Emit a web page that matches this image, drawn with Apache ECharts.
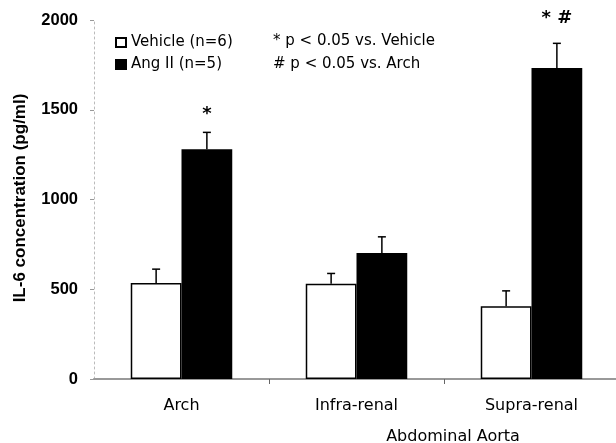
<!DOCTYPE html>
<html>
<head>
<meta charset="utf-8">
<script src="https://cdn.jsdelivr.net/npm/echarts@6/dist/echarts.min.js"></script>
<style>html,body{margin:0;padding:0;background:#fff}#c{width:616px;height:443px}</style>
</head>
<body>
<div id="c"></div>
<script>
var categories = ['Arch', 'Infra-renal', 'Supra-renal'];
var seriesNames = ['Vehicle (n=6)', 'Ang II (n=5)'];
var vehicle = [535, 530, 405];
var vehicleSEM = [77, 58, 86];
var angII = [1280, 702, 1732];
var angIISEM = [94, 90, 138];
var annotations = ['*', '', '* #'];
var yTicks = [0, 500, 1000, 1500, 2000];
var yAxisTitle = 'IL-6 concentration (pg/ml)';
var xGroupTitle = 'Abdominal Aorta';
var statNotes = ['* p < 0.05 vs. Vehicle', '# p < 0.05 vs. Arch'];

var chart = echarts.init(document.getElementById('c'), null, {renderer: 'canvas'});
var GAP = 0.42;

function errSeries(name, means, sems, side, withNotes) {
  var data = means.map(function (m, i) { return [i, m, m + sems[i], withNotes ? annotations[i] : '']; });
  return {
    type: 'custom',
    name: name + ' err',
    z: 5,
    silent: true,
    data: data,
    encode: {x: 0, y: [1, 2]},
    renderItem: function (params, api) {
      var i = api.value(0);
      var band = api.size([1, 0])[0];
      var barW = band * (1 - GAP) / 2;
      var base = api.coord([i, api.value(1)]);
      var top = api.coord([i, api.value(2)]);
      var x = base[0] + side * barW / 2;
      var children = [
        {type: 'line', shape: {x1: x, y1: base[1], x2: x, y2: top[1]}, style: {stroke: '#000', lineWidth: 1.5}},
        {type: 'line', shape: {x1: x - 4, y1: top[1], x2: x + 4, y2: top[1]}, style: {stroke: '#000', lineWidth: 1.5}}
      ];
      var note = data[params.dataIndex][3];
      if (note) {
        children.push({type: 'text', x: x, y: top[1] - (note.length > 1 ? 16 : 9),
          style: {text: note, textAlign: 'center', textVerticalAlign: 'bottom',
                  font: 'bold 18px "DejaVu Sans"', fill: '#000'}});
      }
      return {type: 'group', children: children};
    }
  };
}

chart.setOption({
  animation: false,
  backgroundColor: '#fff',
  grid: {left: 94, right: -3, top: 20, bottom: 64, outerBoundsMode: 'none', containLabel: false},
  legend: {
    orient: 'vertical', left: 115, top: 33.5, padding: 0, itemWidth: 10, itemHeight: 9, itemGap: 4,
    icon: 'rect',
    data: seriesNames,
    textStyle: {fontFamily: 'DejaVu Sans', fontSize: 15, color: '#000', lineHeight: 18}
  },
  xAxis: {
    type: 'category', data: categories, boundaryGap: true,
    axisLine: {lineStyle: {color: '#999', width: 2}},
    axisTick: {show: true, length: 5, interval: function (i) { return i > 0; }, lineStyle: {color: '#666', width: 1}},
    axisLabel: {margin: 19, color: '#000', fontFamily: 'DejaVu Sans', fontSize: 16}
  },
  yAxis: {
    type: 'value', min: yTicks[0], max: yTicks[yTicks.length - 1], interval: 500,
    splitLine: {show: false},
    axisLine: {show: true, lineStyle: {color: '#bbb', width: 1, type: [2, 3]}},
    axisTick: {show: true, length: 4, lineStyle: {color: '#999'}},
    axisLabel: {margin: 16, color: '#000', fontFamily: 'Liberation Sans', fontWeight: 'bold', fontSize: 16.5,
                formatter: function (v) { return String(v); }}
  },
  graphic: [
    {type: 'text', x: 20, y: 198, rotation: Math.PI / 2,
     style: {text: yAxisTitle, textAlign: 'center', textVerticalAlign: 'middle',
             font: 'bold 17px "Liberation Sans"', fill: '#000'}},
    {type: 'text', x: 453, y: 437,
     style: {text: xGroupTitle, textAlign: 'center', textVerticalAlign: 'middle',
             font: '16px "DejaVu Sans"', fill: '#000'}},
    {type: 'text', x: 273, y: 41.5,
     style: {text: statNotes[0], textAlign: 'left', textVerticalAlign: 'middle',
             font: '15px "DejaVu Sans"', fill: '#000'}},
    {type: 'text', x: 273, y: 63.8,
     style: {text: statNotes[1], textAlign: 'left', textVerticalAlign: 'middle',
             font: '15px "DejaVu Sans"', fill: '#000'}}
  ],
  series: [
    {type: 'bar', name: seriesNames[0], data: vehicle, barGap: '0%', barCategoryGap: (GAP * 100) + '%',
     itemStyle: {color: '#fff', borderColor: '#000', borderWidth: 1.5}},
    {type: 'bar', name: seriesNames[1], data: angII, barGap: '0%', barCategoryGap: (GAP * 100) + '%',
     itemStyle: {color: '#000', borderColor: '#000', borderWidth: 1.5}},
    errSeries(seriesNames[0], vehicle, vehicleSEM, -1, false),
    errSeries(seriesNames[1], angII, angIISEM, 1, true)
  ]
});
</script>
</body>
</html>
